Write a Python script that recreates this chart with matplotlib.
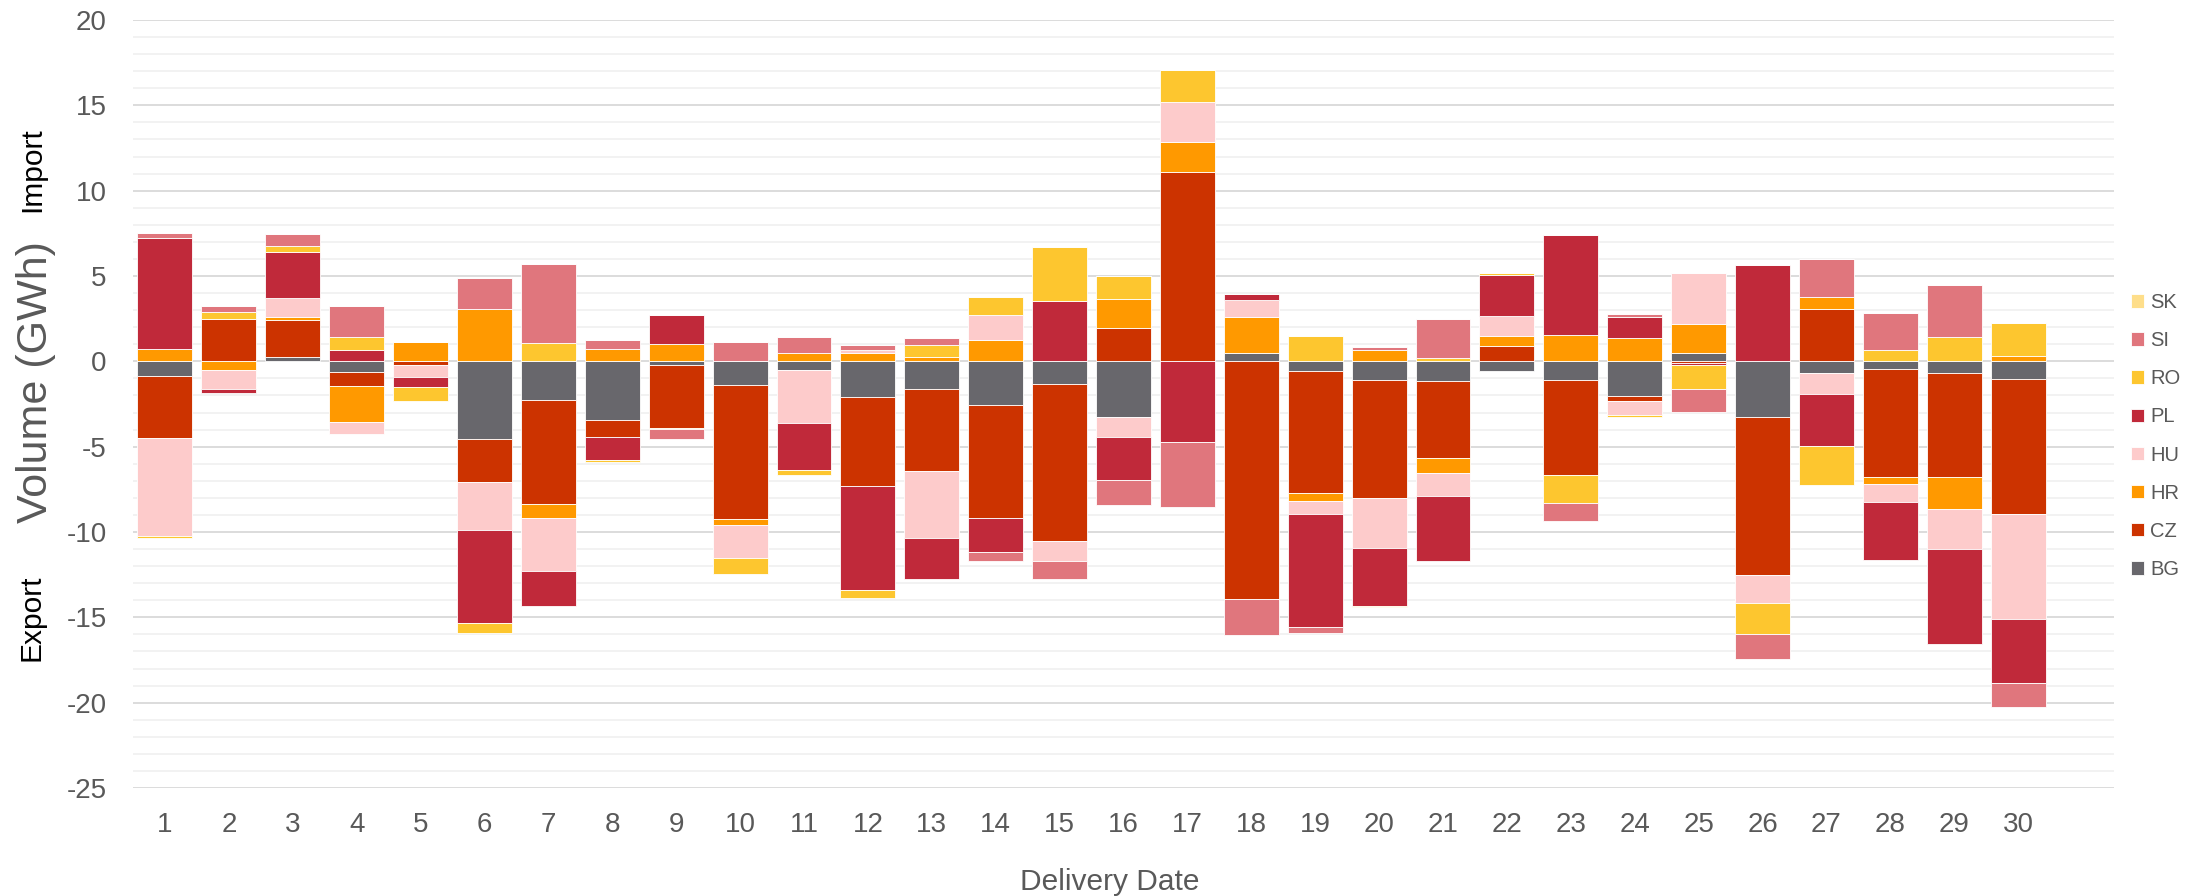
import numpy as np
import matplotlib
matplotlib.use("Agg")
import matplotlib.pyplot as plt

plt.rcParams['font.family'] = ['Liberation Sans', 'DejaVu Sans']
plt.rcParams['axes.unicode_minus'] = False

# delivery days
days = list(range(1, 31))

# net volume per country and day (GWh), + import / - export
BG = [-0.84, 0, 0.27, -0.6, 0, -4.55, -2.24, -3.41, -0.2, -1.37,
      -0.5, -2.11, -1.64, -2.58, -1.3, -3.28, 0, 0.5, -0.57, -1.07,
      -1.17, -0.57, -1.07, -2.01, 0.47, -3.28, -0.67, -0.47, -0.7, -1.04]
CZ = [-3.68, 2.5, 2.17, -0.87, -0.23, -2.51, -6.12, -1.0, -3.71, -7.86,
      0, -5.22, -4.78, -6.62, -9.23, 1.97, 11.07, -13.92, -7.13, -6.93,
      -4.52, 0.9, -5.59, -0.33, -0.1, -9.23, 3.08, -6.32, -6.09, -7.9]
HR = [0.75, -0.5, 0.13, -2.07, 1.14, 3.04, -0.84, 0.7, 1.0, -0.37,
      0.5, 0.47, 0.23, 1.27, 0, 1.67, 1.77, 2.07, -0.5, 0.67,
      -0.87, 0.57, 1.54, 1.37, 1.71, 0, 0.67, -0.4, -1.87, 0.3]
HU = [-5.72, -1.1, 1.14, -0.74, -0.7, -2.81, -3.11, 0, 0, -1.9,
      -3.14, 0.2, -3.91, 1.44, -1.17, -1.17, 2.38, 1.0, -0.74, -2.94,
      -1.34, 1.2, 0, -0.8, 2.98, -1.64, -1.24, -1.04, -2.31, -6.16]
PL = [6.45, -0.23, 2.71, 0.67, -0.6, -5.49, -2.01, -1.37, 1.71, 0,
      -2.71, -6.06, -2.44, -1.97, 3.55, -2.51, -4.72, 0.4, -6.62, -3.38,
      -3.81, 2.38, 5.89, 1.2, -0.1, 5.65, -3.08, -3.41, -5.62, -3.75]
RO = [-0.13, 0.4, 0.33, 0.74, -0.8, -0.57, 1.07, -0.1, -0.05, -0.94,
      -0.33, -0.47, 0.7, 1.04, 3.14, 1.34, 1.84, 0, 1.47, -0.1,
      0.17, 0.13, -1.64, -0.1, -1.44, -1.84, -2.28, 0.67, 1.41, 1.97]
SI = [0.3, 0.33, 0.74, 1.84, 0, 1.84, 4.62, 0.54, -0.57, 1.14,
      0.94, 0.27, 0.43, -0.54, -1.04, -1.47, -3.81, -2.14, -0.37, 0.17,
      2.31, 0, -1.07, 0.2, -1.3, -1.44, 2.24, 2.14, 3.04, -1.41]
SK = [0] * 30

countries = ['BG', 'CZ', 'HR', 'HU', 'PL', 'RO', 'SI', 'SK']
series = [BG, CZ, HR, HU, PL, RO, SI, SK]
colors = ['#68676C', '#CC3300', '#FF9900', '#FDCBCB',
          '#C0293A', '#FDC62F', '#E0767D', '#FEDE8A']

fig = plt.figure(figsize=(22.11, 8.96), dpi=100)
ax = fig.add_axes([133 / 2211, 108 / 896, (2114 - 133) / 2211, (788 - 20) / 896])

x = np.array(days)
pos = np.zeros(len(days))
neg = np.zeros(len(days))
handles = []
for name, vals, col in zip(countries, series, colors):
    v = np.array(vals, dtype=float)
    bottom = np.where(v >= 0, pos, neg)
    b = ax.bar(x, v, 0.86, bottom=bottom, color=col, edgecolor='white',
               linewidth=0.6, label=name, zorder=3)
    handles.append(b)
    pos = pos + np.where(v > 0, v, 0)
    neg = neg + np.where(v < 0, v, 0)

ax.set_xlim(0.5, 31.5)
ax.set_ylim(-25, 20)
ax.set_yticks(range(-25, 21, 5))
ax.set_yticks(range(-25, 21, 1), minor=True)
ax.set_xticks(days)
ax.grid(axis='y', which='major', color='#D9D9D9', linewidth=1.3, zorder=0)
ax.grid(axis='y', which='minor', color='#F0F0F0', linewidth=1.2, zorder=0)
ax.set_axisbelow(True)
for s in ax.spines.values():
    s.set_visible(False)
ax.tick_params(axis='both', which='both', length=0, labelsize=20,
               labelcolor='#595959')
ax.tick_params(axis='y', pad=19)
ax.tick_params(axis='x', pad=17)

fig.text(0.0163, 0.574, 'Volume (GWh)', rotation=90, fontsize=31,
         color='#595959', ha='center', va='center')
fig.text(0.0145, 0.811, 'Import', rotation=90, fontsize=21.5,
         color='black', ha='center', va='center')
fig.text(0.0142, 0.311, 'Export', rotation=90, fontsize=21.5,
         color='black', ha='center', va='center')
fig.text(0.5017, 0.0, 'Delivery Date', fontsize=21.5, color='#595959',
         ha='center', va='bottom')

leg = fig.legend(handles[::-1], countries[::-1], loc='upper left',
                 bbox_to_anchor=(2131 / 2211, 1 - 293 / 896),
                 frameon=False, fontsize=14.5, handlelength=0.65,
                 handleheight=0.65, handletextpad=0.3, labelspacing=0.95,
                 borderpad=0, borderaxespad=0)
for t in leg.get_texts():
    t.set_color('#595959')

fig.savefig('out.png', dpi=100)
